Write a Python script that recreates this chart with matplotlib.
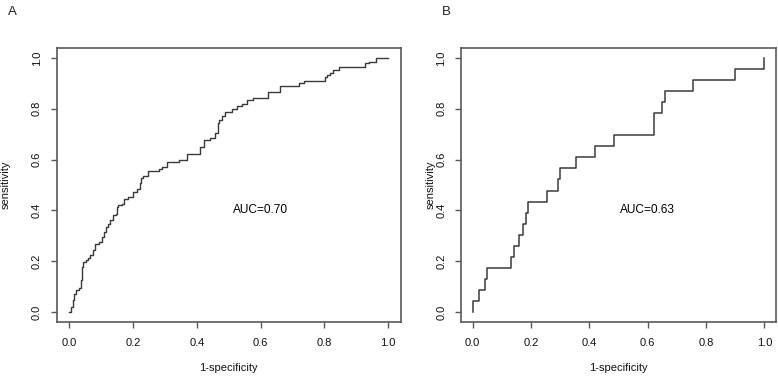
import matplotlib
matplotlib.use("Agg")
import matplotlib.pyplot as plt

plt.rcParams["font.family"] = ["Liberation Sans", "DejaVu Sans"]

# ── ROC knots (fpr, tpr); drawn as post-steps ──
FPR_A = [0.0, 0.005, 0.011, 0.015, 0.022, 0.030, 0.037, 0.039, 0.043, 0.052,
         0.058, 0.065, 0.073, 0.081, 0.094, 0.102, 0.109, 0.115, 0.122, 0.128,
         0.138, 0.146, 0.149, 0.152, 0.165, 0.170, 0.185, 0.201, 0.212, 0.220,
         0.225, 0.232, 0.248, 0.280, 0.290, 0.306, 0.345, 0.369, 0.410, 0.423,
         0.442, 0.458, 0.465, 0.468, 0.479, 0.489, 0.510, 0.526, 0.541, 0.557,
         0.576, 0.622, 0.660, 0.722, 0.737, 0.802, 0.810, 0.819, 0.827, 0.845,
         0.929, 0.939, 0.963, 1.0]
TPR_A = [0.0, 0.022, 0.046, 0.072, 0.088, 0.096, 0.125, 0.177, 0.197, 0.204,
         0.214, 0.223, 0.243, 0.269, 0.277, 0.295, 0.315, 0.335, 0.345, 0.361,
         0.381, 0.387, 0.413, 0.420, 0.427, 0.446, 0.453, 0.472, 0.486, 0.506,
         0.529, 0.534, 0.555, 0.562, 0.571, 0.591, 0.597, 0.621, 0.650, 0.676,
         0.683, 0.705, 0.742, 0.757, 0.770, 0.787, 0.800, 0.811, 0.820, 0.833,
         0.844, 0.866, 0.889, 0.902, 0.909, 0.923, 0.932, 0.941, 0.954, 0.965,
         0.978, 0.984, 1.0, 1.0]

FPR_B = [0.0, 0.0, 0.020, 0.041, 0.050, 0.131, 0.143, 0.160, 0.171, 0.182,
         0.190, 0.254, 0.291, 0.299, 0.353, 0.420, 0.485, 0.620, 0.650, 0.660,
         0.754, 0.900, 1.0]
TPR_B = [0.0, 0.043, 0.087, 0.130, 0.174, 0.217, 0.261, 0.304, 0.348, 0.391,
         0.435, 0.478, 0.522, 0.565, 0.609, 0.652, 0.696, 0.783, 0.826, 0.870,
         0.913, 0.957, 1.0]

AUC_A = "AUC=0.70"
AUC_B = "AUC=0.63"
TICKS = [0.0, 0.2, 0.4, 0.6, 0.8, 1.0]
TICK_LABELS = ["0.0", "0.2", "0.4", "0.6", "0.8", "1.0"]

FRAME = "#5a5a5a"
LINE = "#3a3a3a"
W, H = 778, 376


def style_axes(ax, ylab_x):
    ax.set_xlim(-0.04, 1.04)
    ax.set_ylim(-0.04, 1.04)
    ax.set_xticks(TICKS)
    ax.set_xticklabels(TICK_LABELS)
    ax.set_yticks(TICKS)
    ax.set_yticklabels(TICK_LABELS, rotation=90, va="center")
    for s in ax.spines.values():
        s.set_color(FRAME)
        s.set_linewidth(1.2)
    ax.tick_params(axis="both", direction="out", length=4.5, width=1.0,
                   color=FRAME, labelsize=8, labelcolor="#111111")
    ax.tick_params(axis="x", pad=7)
    ax.tick_params(axis="y", pad=6)
    ax.set_xlabel("1-specificity", fontsize=8, color="#111111")
    ax.set_ylabel("sensitivity", fontsize=8, color="#111111")
    ax.xaxis.set_label_coords(0.5, -0.148)
    ax.yaxis.set_label_coords(ylab_x, 0.5)


fig = plt.figure(figsize=(W / 100, H / 100), dpi=100)
ax_a = fig.add_axes([56.7 / W, 1 - 322.3 / H, 344 / W, 274.6 / H])
ax_b = fig.add_axes([461 / W, 1 - 322.3 / H, 315 / W, 274.6 / H])

ax_a.step(FPR_A, TPR_A, where="post", color=LINE, linewidth=1.0)
ax_b.step(FPR_B, TPR_B, where="post", color=LINE, linewidth=1.1)

ax_a.text(0.6, 0.4, AUC_A, ha="center", va="center", fontsize=8.6)
ax_b.text(0.6, 0.4, AUC_B, ha="center", va="center", fontsize=8.6)

style_axes(ax_a, -0.133)
style_axes(ax_b, -0.079)

fig.text(12 / W, 1 - 12 / H, "A", fontsize=9.5, ha="center", va="center", color="#222222")
fig.text(446 / W, 1 - 12 / H, "B", fontsize=9.5, ha="center", va="center", color="#222222")

fig.savefig("out.png", dpi=100)
